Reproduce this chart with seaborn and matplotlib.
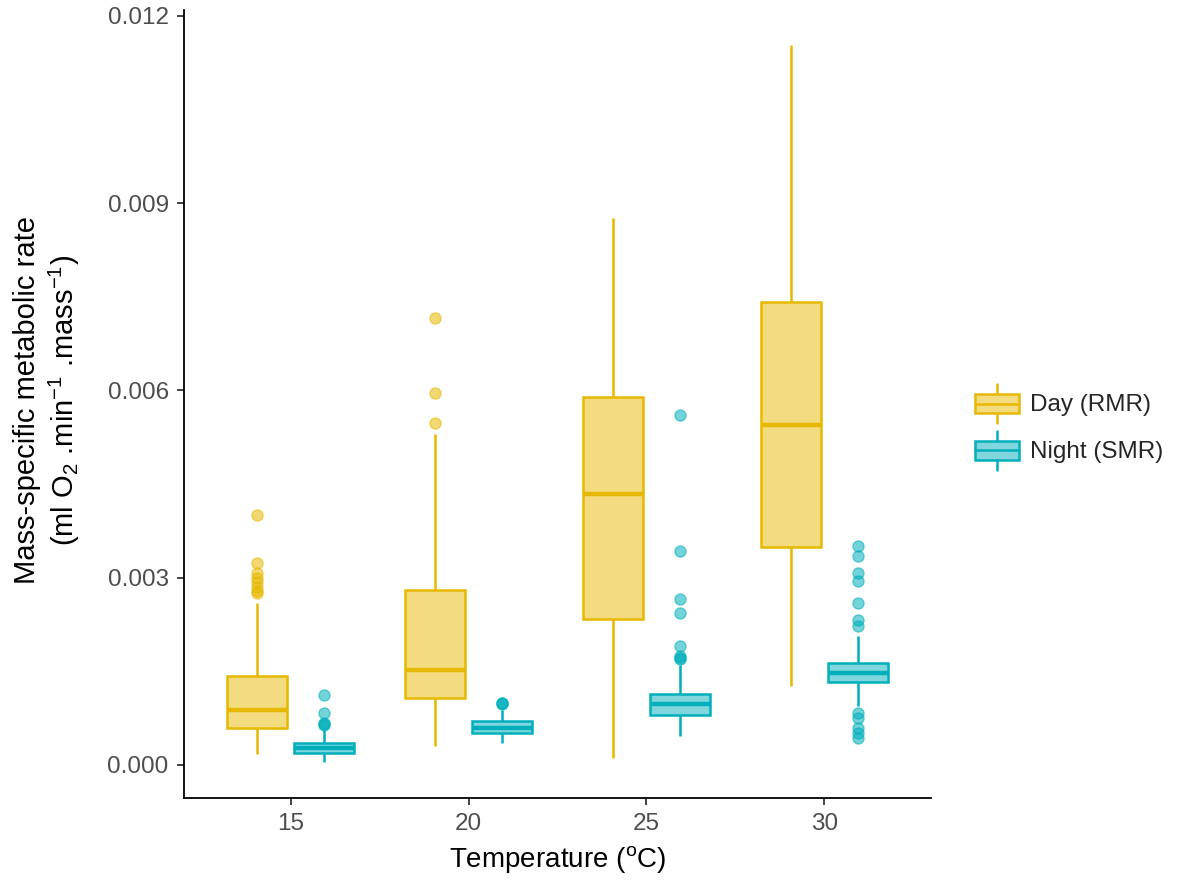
import numpy as np
import pandas as pd
import matplotlib
matplotlib.use("Agg")
import matplotlib.pyplot as plt
import matplotlib.colors as mcolors
import seaborn as sns
from matplotlib.legend_handler import HandlerBase
from matplotlib.patches import Rectangle, Patch
from matplotlib.lines import Line2D

# categories
temps = ["15", "20", "25", "30"]
periods = ["Day (RMR)", "Night (SMR)"]

# box statistics (ml O2 / min / mass)
day_q1 = [0.00060, 0.00108, 0.00234, 0.00349]
day_med = [0.00088, 0.00152, 0.00434, 0.00544]
day_q3 = [0.00143, 0.00281, 0.00590, 0.00742]
day_lo = [0.00018, 0.00031, 0.00011, 0.00126]
day_hi = [0.00260, 0.00530, 0.00877, 0.01154]
day_out = [
    [0.00401, 0.00324, 0.00307, 0.00300, 0.00293, 0.00285, 0.00278, 0.00275],
    [0.00716, 0.00596, 0.00548],
    [],
    [],
]

night_q1 = [0.00019, 0.00052, 0.00080, 0.00133]
night_med = [0.00027, 0.00060, 0.00098, 0.00147]
night_q3 = [0.00035, 0.00070, 0.00114, 0.00164]
night_lo = [0.00005, 0.00035, 0.00046, 0.00095]
night_hi = [0.00056, 0.00088, 0.00160, 0.00207]
night_out = [
    [0.00112, 0.00084, 0.00068, 0.00066, 0.00064],
    [0.00099, 0.00100, 0.00098],
    [0.00561, 0.00343, 0.00266, 0.00244, 0.00190, 0.00175, 0.00172, 0.00170],
    [0.00351, 0.00335, 0.00308, 0.00295, 0.00260, 0.00233, 0.00223,
     0.00084, 0.00075, 0.00059, 0.00051, 0.00043],
]

edge_colors = ["#E7B800", "#00AFBB"]
fill_colors = ["#F3DB7F", "#7FD7DD"]


def sample_from_stats(lo, q1, med, q3, hi, extra, m=40):
    # a sample whose quartiles / whiskers / fliers give back the read stats
    return [lo] + [q1] * m + [med] * m + [q3] * m + [hi] + list(extra)


rows = []
stats = {
    periods[0]: (day_lo, day_q1, day_med, day_q3, day_hi, day_out),
    periods[1]: (night_lo, night_q1, night_med, night_q3, night_hi, night_out),
}
for p, (lo, q1, med, q3, hi, out) in stats.items():
    for i, t in enumerate(temps):
        for v in sample_from_stats(lo[i], q1[i], med[i], q3[i], hi[i], out[i]):
            rows.append((t, p, v))
df = pd.DataFrame(rows, columns=["temp", "period", "rate"])

sns.set_style("white")
plt.rcParams["font.family"] = ["Liberation Sans", "DejaVu Sans"]
plt.rcParams["mathtext.default"] = "regular"

fig = plt.figure(figsize=(11.81, 8.86), dpi=100)
ax = fig.add_axes([184 / 1181, 1 - 798 / 886, (931 - 184) / 1181, (798 - 10) / 886])

sns.boxplot(data=df, x="temp", y="rate", hue="period",
            order=temps, hue_order=periods, palette=dict(zip(periods, fill_colors)),
            linecolor="black", linewidth=1.8, width=0.75, gap=0.1,
            saturation=1, showcaps=False,
            medianprops=dict(linewidth=3.2),
            flierprops=dict(marker="o", alpha=0.55, markersize=8),
            legend=False, ax=ax)

# ggplot-like colouring: outline, whiskers, median and points in the hue colour
for patch in ax.patches:
    fc = mcolors.to_hex(patch.get_facecolor()[:3]).upper()
    k = 0 if fc == fill_colors[0] else 1
    patch.set_edgecolor(edge_colors[k])
for ln in ax.lines:
    xd = np.asarray(ln.get_xdata(), dtype=float)
    if xd.size == 0:
        continue
    xm = xd.mean()
    k = 0 if xm - np.round(xm) < 0 else 1
    ln.set_color(edge_colors[k])
    ln.set_markerfacecolor(edge_colors[k])
    ln.set_markeredgecolor(edge_colors[k])

ax.set_xlim(-0.6, 3.6)
ax.set_ylim(-0.000529, 0.012096)
ax.set_yticks([0, 0.003, 0.006, 0.009, 0.012])
ax.set_yticklabels([f"{v:.3f}" for v in [0, 0.003, 0.006, 0.009, 0.012]])

for s in ["top", "right"]:
    ax.spines[s].set_visible(False)
for s in ["left", "bottom"]:
    ax.spines[s].set_color("black")
    ax.spines[s].set_linewidth(1.3)

ax.tick_params(axis="both", labelsize=17.5, labelcolor="#4D4D4D", color="#333333",
               length=5, width=1.3, direction="out", left=True, bottom=True, pad=6)

ax.set_xlabel("Temperature ($^{o}$C)", fontsize=20, color="black")
ax.set_ylabel("Mass-specific metabolic rate\n(ml O$_2$ .min$^{-1}$ .mass$^{-1}$)",
              fontsize=21, color="black", linespacing=1.2, multialignment="center")
ax.xaxis.set_label_coords(0.5, -0.058)
ax.yaxis.set_label_coords(-0.137, 0.505)


class BoxKey(HandlerBase):
    def __init__(self, fill, edge):
        super().__init__()
        self.fill = fill
        self.edge = edge

    def create_artists(self, legend, orig_handle, xdescent, ydescent, width,
                       height, fontsize, trans):
        x0, y0 = -xdescent, -ydescent
        xm = x0 + width / 2
        box = Rectangle((x0, y0 + 0.25 * height), width, 0.5 * height,
                        facecolor=self.fill, edgecolor=self.edge, lw=1.8)
        med = Line2D([x0, x0 + width], [y0 + 0.5 * height] * 2, color=self.edge, lw=1.8)
        w1 = Line2D([xm, xm], [y0, y0 + 0.25 * height], color=self.edge, lw=1.8)
        w2 = Line2D([xm, xm], [y0 + 0.75 * height, y0 + height], color=self.edge, lw=1.8)
        arts = [box, med, w1, w2]
        for a in arts:
            a.set_transform(trans)
        return arts


handles = [Patch(label=p) for p in periods]
hmap = {h: BoxKey(f, e) for h, f, e in zip(handles, fill_colors, edge_colors)}
fig.legend(handles=handles, labels=periods, handler_map=hmap,
           loc="center left", bbox_to_anchor=(975 / 1181, 1 - 427 / 886),
           frameon=False, borderpad=0, borderaxespad=0, fontsize=17.5,
           handlelength=1.8, handleheight=2.15, labelspacing=0.29,
           handletextpad=0.45)

fig.savefig("out.png", dpi=100)
